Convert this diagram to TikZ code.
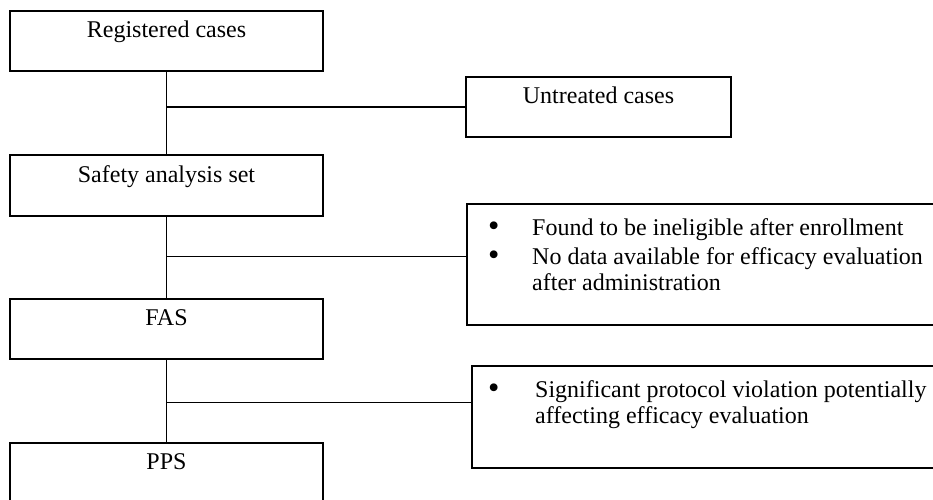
\documentclass[tikz,border=0pt]{standalone}
\usepackage{fontspec}
\setmainfont{Liberation Serif}
\usetikzlibrary{calc}

\begin{document}
\begin{tikzpicture}[x=1pt,y=-1pt]
  \tikzstyle{every node}=[font=\fontsize{24}{26}\selectfont]
  \tikzstyle{stage}=[draw,line width=1.6pt,inner sep=0pt,minimum width=313pt,text height=26pt,text depth=34pt]
  \tikzstyle{excl}=[draw,line width=1.6pt,inner sep=0pt,anchor=north west]
  \tikzstyle{items}=[anchor=base west,inner sep=0pt]
  \tikzstyle{link}=[line width=1.6pt]
  \newcommand{\bul}{\smash{\raisebox{-1.5pt}{\scalebox{1.35}{\textbullet}}}}
  \clip (0,0) rectangle (933,499);
  \node[stage] (reg) at (166.5,41) {Registered cases};
  \node[stage,minimum width=265pt] (unt) at (598.5,107) {Untreated cases};
  \node[stage,text height=27pt] (saf) at (166.5,185.5) {Safety analysis set};
  \node[stage] (fas) at (166.5,329) {FAS};
  \node[stage] (pps) at (166.5,473) {PPS};
  \node[excl,minimum width=480pt,minimum height=121pt] (exa) at (466,203) {};
  \node[excl,minimum width=475pt,minimum height=102pt] (exb) at (471,365) {};
  \node[items] (exatxt) at ($(exa.north west)+(22,32)$)
    {\begin{tabular}[t]{@{}p{44pt}@{}l@{}}
       \bul & Found to be ineligible after enrollment\\[3pt]
       \bul & No data available for efficacy evaluation\\
            & after administration
     \end{tabular}};
  \node[items] (exbtxt) at ($(exb.north west)+(17,32)$)
    {\begin{tabular}[t]{@{}p{47pt}@{}l@{}}
       \bul & Significant protocol violation potentially\\
            & affecting efficacy evaluation
     \end{tabular}};
  \coordinate (ja) at ($(reg.south)!0.43!(saf.north)$);
  \coordinate (jb) at ($(saf.south)!0.49!(fas.north)$);
  \coordinate (jc) at ($(fas.south)!0.52!(pps.north)$);
  \draw[link] (reg) -- (saf);
  \draw[link] (saf) -- (fas);
  \draw[link] (fas) -- (pps);
  \draw[link] (ja) -- (ja -| unt.west);
  \draw[link] (jb) -- (jb -| exa.west);
  \draw[link] (jc) -- (jc -| exb.west);
\end{tikzpicture}
\end{document}
